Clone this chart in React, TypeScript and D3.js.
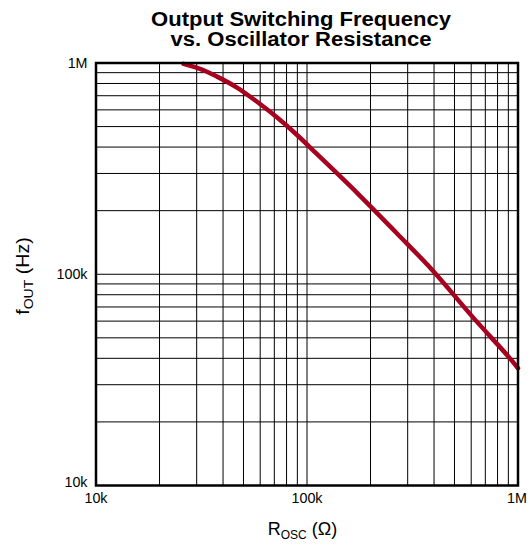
import React from 'react';
import * as d3 from 'd3';

// curve (ohms -> Hz)
const resistance = [26e3, 32e3, 37.5e3, 46.6e3, 58e3, 72e3, 90e3, 111e3, 174e3, 267e3, 395e3, 612e3, 900e3, 1e6];
const frequency = [990e3, 928e3, 862e3, 765e3, 655e3, 553e3, 455e3, 372e3, 241e3, 156e3, 104e3, 62.5e3, 40.8e3, 35.9e3];

const xTickValues = [1e4, 1e5, 1e6];
const xTickLabels = ['10k', '100k', '1M'];
const yTickValues = [1e4, 1e5, 1e6];
const yTickLabels = ['10k', '100k', '1M'];

const titleLines = ['Output Switching Frequency', 'vs. Oscillator Resistance'];

const W = 531;
const H = 547;
const left = 96, right = 518, top = 63, bottom = 485.5;
const font = 'Arial, "Liberation Sans", Helvetica, sans-serif';

export default function App() {
  const x = d3.scaleLog().domain([1e4, 1e6]).range([left, right]);
  const y = d3.scaleLog().domain([1e4, 1e6]).range([bottom, top]);

  const line = d3.line<number>()
    .x((d, i) => x(resistance[i]))
    .y(d => y(d))
    .curve(d3.curveCatmullRom.alpha(0.5));

  const xGrid = x.ticks();
  const yGrid = y.ticks();

  // small nudges so the labels sit like the reference
  const yLabelDy = [1.2, 4.3, 5.3];

  return (
    <svg width={W} height={H} style={{ position: 'absolute', left: 0, top: 0, background: '#fff' }}
      fontFamily={font}>
      {titleLines.map((t, i) => (
        <g key={t} transform={`translate(301, ${25.7 + i * 19.8}) scale(1.13, 1)`}>
          <text textAnchor="middle" fontWeight="bold" fontSize={19.5}>{t}</text>
        </g>
      ))}

      {/* grid */}
      <g stroke="#000" strokeWidth={1}>
        {xGrid.map(v => (
          <line key={'x' + v} x1={x(v)} x2={x(v)} y1={top} y2={bottom} />
        ))}
        {yGrid.map(v => (
          <line key={'y' + v} x1={left} x2={right} y1={y(v)} y2={y(v)} />
        ))}
      </g>

      <path d={line(frequency) || ''} fill="none" stroke="#a8001f" strokeWidth={4.5} strokeLinecap="round" />

      <rect x={left} y={top} width={right - left} height={bottom - top} fill="none" stroke="#000" strokeWidth={2.5} />

      {yTickValues.map((v, i) => (
        <text key={'yl' + v} x={87.5} y={y(v) + yLabelDy[i]} textAnchor="end" fontSize={14.3}>{yTickLabels[i]}</text>
      ))}
      {xTickValues.map((v, i) => (
        <text key={'xl' + v} x={x(v) - (i === 2 ? 1 : 0)} y={503} textAnchor="middle" fontSize={14.3}>{xTickLabels[i]}</text>
      ))}

      <text x={302.5} y={535} textAnchor="middle" fontSize={18}>
        R<tspan fontSize={12} dy={4}>OSC</tspan><tspan dy={-4}> (Ω)</tspan>
      </text>

      <g transform={`translate(29, 276) rotate(-90) scale(1.12, 1)`}>
        <text textAnchor="middle" fontSize={17.5}>
          f<tspan fontSize={12.5} dy={4}>OUT</tspan><tspan dy={-4}> (Hz)</tspan>
        </text>
      </g>
    </svg>
  );
}
